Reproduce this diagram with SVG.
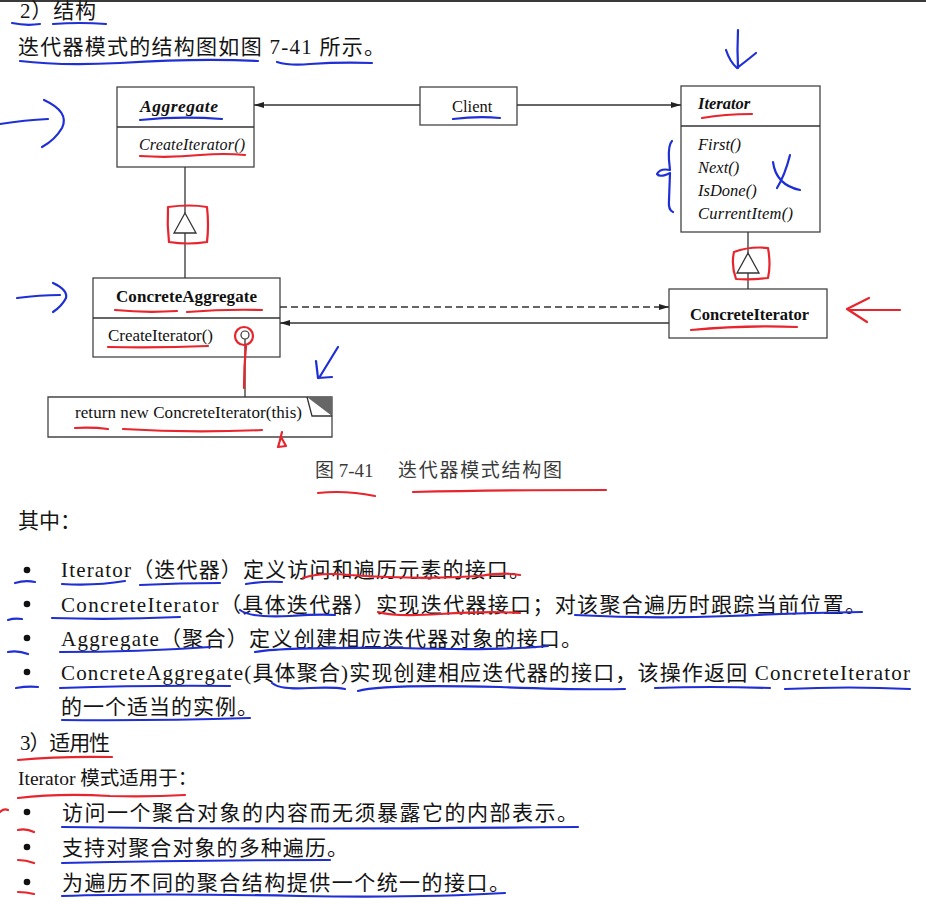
<svg xmlns="http://www.w3.org/2000/svg" width="926" height="904" viewBox="0 0 926 904">
<style>
  .body{font-family:"Liberation Serif","Noto Sans CJK SC",serif;font-size:21px;fill:#141414}
  .box{fill:#fff;stroke:#444;stroke-width:1.3}
  .ln{stroke:#333;stroke-width:1.3;fill:none}
  .uml{font-family:"Liberation Serif",serif;fill:#111}
  .b{font-weight:bold}
  .i{font-style:italic}
  .blue{stroke:#1f2fd6;stroke-width:2.2;fill:none;stroke-linecap:round;stroke-linejoin:round}
  .red{stroke:#e8242c;stroke-width:2.2;fill:none;stroke-linecap:round;stroke-linejoin:round}
</style>
<defs>
  <marker id="arr" viewBox="0 0 10 6" refX="10" refY="3" markerWidth="11" markerHeight="6" orient="auto" markerUnits="userSpaceOnUse">
    <path d="M0,0 L10,3 L0,6 z" fill="#222"/>
  </marker>
</defs>
<rect x="0" y="0" width="926" height="904" fill="#fff"/>
<rect x="0" y="0" width="926" height="2" fill="#3a3a3a"/>

<!-- page text -->
<g id="text">
  <text class="body" x="20" y="18" textLength="76">2）结构</text>
  <text class="body" x="18" y="54" textLength="367">迭代器模式的结构图如图 7-41 所示。</text>
  <text class="body" x="315" y="477" style="font-size:19px;fill:#3a3a3a">图 7-41</text>
  <text class="body" x="398" y="477" style="font-size:19px;fill:#3a3a3a" textLength="164">迭代器模式结构图</text>
  <text class="body" x="18" y="528">其中：</text>
  <circle cx="27" cy="570" r="3.3" fill="#111"/>
  <circle cx="27" cy="604" r="3.3" fill="#111"/>
  <circle cx="27" cy="638" r="3.3" fill="#111"/>
  <circle cx="27" cy="672" r="3.3" fill="#111"/>
  <text class="body" x="61" y="577" textLength="469">Iterator（迭代器）定义访问和遍历元素的接口。</text>
  <text class="body" x="61" y="612" textLength="805">ConcreteIterator（具体迭代器）实现迭代器接口；对该聚合遍历时跟踪当前位置。</text>
  <text class="body" x="61" y="646" textLength="521">Aggregate（聚合）定义创建相应迭代器对象的接口。</text>
  <text class="body" x="61" y="680" textLength="849">ConcreteAggregate(具体聚合)实现创建相应迭代器的接口，该操作返回 ConcreteIterator</text>
  <text class="body" x="61" y="714" textLength="197">的一个适当的实例。</text>
  <text class="body" x="20" y="750" textLength="90">3）适用性</text>
  <text class="body" x="18" y="785" style="font-size:19.5px">Iterator 模式适用于：</text>
  <circle cx="27" cy="812" r="3.3" fill="#111"/>
  <circle cx="27" cy="847" r="3.3" fill="#111"/>
  <circle cx="27" cy="882" r="3.3" fill="#111"/>
  <text class="body" x="62" y="820" textLength="516">访问一个聚合对象的内容而无须暴露它的内部表示。</text>
  <text class="body" x="62" y="855" textLength="286">支持对聚合对象的多种遍历。</text>
  <text class="body" x="62" y="890" textLength="448">为遍历不同的聚合结构提供一个统一的接口。</text>
</g>

<!-- nodes -->
<g id="Aggregate">
  <rect class="box" x="117" y="87" width="137" height="80"/>
  <line class="ln" x1="117" y1="127" x2="254" y2="127"/>
  <text class="uml b i" x="140" y="112" font-size="17.5" textLength="78">Aggregate</text>
  <text class="uml i" x="139" y="150" font-size="16" textLength="106">CreateIterator()</text>
</g>
<g id="Client">
  <rect class="box" x="420" y="87" width="97" height="38"/>
  <text class="uml" x="452" y="112" font-size="16.5">Client</text>
</g>
<g id="Iterator">
  <rect class="box" x="681" y="86" width="139" height="146"/>
  <line class="ln" x1="681" y1="126" x2="820" y2="126"/>
  <text class="uml b i" x="698" y="109" font-size="16.5">Iterator</text>
  <text class="uml i" x="698" y="150" font-size="16.5">First()</text>
  <text class="uml i" x="698" y="173" font-size="16.5">Next()</text>
  <text class="uml i" x="698" y="196" font-size="16.5">IsDone()</text>
  <text class="uml i" x="698" y="219" font-size="16.5" textLength="95">CurrentItem()</text>
</g>
<g id="ConcreteAggregate">
  <rect class="box" x="93" y="278" width="187" height="79"/>
  <line class="ln" x1="93" y1="318" x2="280" y2="318"/>
  <text class="uml b" x="116" y="302" font-size="17" textLength="141">ConcreteAggregate</text>
  <text class="uml" x="108" y="341" font-size="17" textLength="105">CreateIterator()</text>
  <circle cx="245" cy="335" r="4" fill="#fff" stroke="#333" stroke-width="1.2"/>
</g>
<g id="ConcreteIterator">
  <rect class="box" x="669" y="289" width="158" height="49"/>
  <text class="uml b" x="690" y="320" font-size="16.5" textLength="119">ConcreteIterator</text>
</g>
<g id="Note">
  <path class="box" d="M48,397 H332 V437 H48 Z"/>
  <polygon points="307,397 332,397 332,416" fill="#666"/>
  <polyline class="ln" points="307,397 312,416 332,416"/>
  <text class="uml" x="75" y="418" font-size="17" textLength="227">return new ConcreteIterator(this)</text>
</g>

<!-- connectors -->
<g id="connectors">
  <line class="ln" x1="420" y1="105" x2="254" y2="105" marker-end="url(#arr)"/>
  <line class="ln" x1="517" y1="105" x2="681" y2="105" marker-end="url(#arr)"/>
  <line class="ln" x1="185" y1="167" x2="185" y2="213"/>
  <line class="ln" x1="185" y1="233" x2="185" y2="278"/>
  <polygon class="ln" points="185,213 174,233 196,233" fill="#fff"/>
  <line class="ln" x1="748" y1="232" x2="748" y2="253"/>
  <line class="ln" x1="748" y1="273" x2="748" y2="289"/>
  <polygon class="ln" points="748,253 737,273 759,273" fill="#fff"/>
  <line class="ln" x1="280" y1="307" x2="669" y2="307" stroke-dasharray="7,4" marker-end="url(#arr)"/>
  <line class="ln" x1="669" y1="323" x2="280" y2="323" marker-end="url(#arr)"/>
  <line class="ln" x1="245" y1="339" x2="245" y2="397"/>
</g>

<!-- handwritten annotations -->
<g id="annotations">
  <path class="blue" d="M12,23 Q26,26 40,24"/>
  <path class="blue" d="M53,24 Q80,22 106,24"/>
  <path class="blue" d="M20,61 Q60,66 120,63 Q200,58 258,61"/>
  <path class="blue" d="M277,62 Q290,66 310,64 Q340,62 372,63"/>
  <path class="blue" d="M0,124 Q25,120 48,119"/>
  <path class="blue" d="M44,100 Q70,112 62,128 Q55,140 42,147"/>
  <path class="blue" d="M17,298 Q40,295 60,295"/>
  <path class="blue" d="M53,283 Q68,290 66,298 Q62,306 53,312"/>
  <path class="blue" d="M140,120 Q180,116 222,119"/>
  <path class="blue" d="M453,119 Q478,116 500,118"/>
  <path class="blue" d="M738,30 Q737,50 738,68"/>
  <path class="blue" d="M726,50 Q730,62 737,68 Q745,62 756,53"/>
  <path class="blue" d="M672,141 Q668,145 669,160 L670,170 Q660,168 657,174 Q660,178 670,173 L669,200 Q668,210 673,212"/>
  <path class="blue" d="M790,155 Q785,175 777,188 M773,162 Q776,185 800,190"/>
  <path class="blue" d="M338,347 L319,378 M316,361 L318,378 L332,377"/>
  <path class="blue" d="M15,583 Q25,580 35,582"/>
  <path class="blue" d="M62,584 Q95,586 125,581"/>
  <path class="blue" d="M140,585 Q180,583 220,583"/>
  <path class="blue" d="M246,584 Q262,581 282,582"/>
  <path class="blue" d="M8,620 Q14,618 22,619"/>
  <path class="blue" d="M52,618 Q115,620 180,617"/>
  <path class="blue" d="M240,610 Q250,618 290,616 Q320,614 335,615"/>
  <path class="blue" d="M575,615 Q650,619 730,616 Q800,613 862,612"/>
  <path class="blue" d="M8,652 Q18,650 28,654"/>
  <path class="blue" d="M60,652 Q140,652 210,647"/>
  <path class="blue" d="M255,652 Q280,647 400,648 Q500,651 548,646"/>
  <path class="blue" d="M16,688 Q28,686 38,687"/>
  <path class="blue" d="M60,688 Q150,685 230,686"/>
  <path class="blue" d="M272,683 Q280,690 310,688 Q335,687 345,689"/>
  <path class="blue" d="M358,691 Q380,684 500,687 Q580,690 625,689"/>
  <path class="blue" d="M655,688 Q710,686 770,688"/>
  <path class="blue" d="M785,689 Q850,686 910,689"/>
  <path class="blue" d="M62,720 Q150,721 250,718"/>
  <path class="blue" d="M62,827 Q300,830 578,827"/>
  <path class="blue" d="M62,863 Q200,860 330,860"/>
  <path class="blue" d="M62,896 Q150,893 300,896 Q420,898 505,893"/>

  <path class="red" d="M140,156 Q170,158 200,155 Q225,153 245,155"/>
  <path class="red" d="M702,118 Q725,114 752,114"/>
  <path class="red" d="M168,207 Q190,204 207,207 Q209,225 207,242 Q188,245 169,242 Q167,225 168,207"/>
  <path class="red" d="M734,252 Q750,246 768,248 Q771,265 768,278 Q752,280 736,279 Q731,265 734,252"/>
  <path class="red" d="M115,310 Q145,313 177,311"/>
  <path class="red" d="M187,312 Q225,309 262,310"/>
  <path class="red" d="M108,347 Q160,348 208,346"/>
  <circle class="red" cx="244" cy="336" r="9"/>
  <path class="red" d="M246,346 Q244,366 244,388"/>
  <path class="red" d="M691,330 Q745,325 797,327"/>
  <path class="red" d="M900,310 L850,310 M869,298 L847,309 L867,322"/>
  <path class="red" d="M75,428 Q92,427 108,429"/>
  <path class="red" d="M123,429 Q190,433 262,430"/>
  <path class="red" d="M282,432 L280,440 M278,447 L281,437 L286,446 Z"/>
  <path class="red" d="M318,493 Q345,490 375,496"/>
  <path class="red" d="M413,492 Q500,490 606,490"/>
  <path class="red" d="M303,578 Q320,572 350,575 Q420,580 480,576 Q505,572 520,575"/>
  <path class="red" d="M378,612 Q395,617 440,614 Q490,611 520,613"/>
  <path class="red" d="M18,760 Q60,756 112,757"/>
  <path class="red" d="M18,798 Q60,793 110,796 Q150,797 185,795"/>
  <path class="red" d="M0,812 Q4,808 8,810"/>
  <path class="red" d="M18,830 Q26,828 34,832"/>
  <path class="red" d="M18,860 Q26,860 34,863"/>
  <path class="red" d="M18,892 Q26,892 34,894"/>
</g>
</svg>
